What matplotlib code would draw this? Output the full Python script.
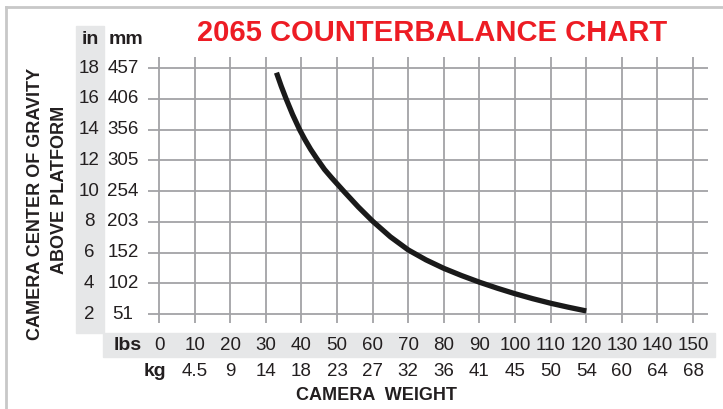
import matplotlib
matplotlib.use("Agg")
import matplotlib.pyplot as plt
from matplotlib.patches import Rectangle
from matplotlib.lines import Line2D
from matplotlib.transforms import blended_transform_factory
from matplotlib import font_manager

# Datos
curve_lbs = [33.0, 34.3, 35.7, 37.5, 39.5, 41.0, 42.6, 44.3, 46.5, 48.5, 52.0, 56.0,
             60.0, 65.0, 70.0, 75.0, 80.0, 85.0, 90.0, 95.0, 100, 105, 110, 115, 120]
curve_in = [17.7, 16.84, 16.0, 14.99, 13.99, 13.34, 12.71, 12.12, 11.4, 10.86, 9.96, 8.96,
            8.04, 7.02, 6.17, 5.52, 4.97, 4.5, 4.07, 3.68, 3.32, 2.995, 2.7, 2.44, 2.2]

lbs_ticks = [0, 10, 20, 30, 40, 50, 60, 70, 80, 90, 100, 110, 120, 130, 140, 150]
kg_labels = ["", "4.5", "9", "14", "18", "23", "27", "32", "36", "41", "45", "50", "54", "60", "64", "68"]
in_ticks = [18, 16, 14, 12, 10, 8, 6, 4, 2]
mm_labels = ["457", "406", "356", "305", "254", "203", "152", "102", "51"]

W, H = 723, 409
names = {f.name for f in font_manager.fontManager.ttflist}
narrow = "Liberation Sans Narrow" if "Liberation Sans Narrow" in names else "Liberation Sans"
bold = "Liberation Sans"
ink = "#231f20"

fig = plt.figure(figsize=(W / 100, H / 100), dpi=100)


def fx(px):
    return px / W


def fy(py):
    return 1 - py / H


# bandas grises
band = "#e6e7e8"
fig.patches.append(Rectangle((fx(76), fy(333)), fx(104) - fx(76), fy(26) - fy(333),
                             transform=fig.transFigure, color=band, zorder=-5))
fig.patches.append(Rectangle((fx(103), fy(357)), fx(715) - fx(103), fy(333) - fy(357),
                             transform=fig.transFigure, color=band, zorder=-5))

# marco
frame = "#c8c8c8"
fig.lines.append(Line2D([fx(6), 1], [fy(7), fy(7)], transform=fig.transFigure, color=frame, lw=2, zorder=-5))
fig.lines.append(Line2D([fx(6), fx(6)], [fy(7), 0], transform=fig.transFigure, color=frame, lw=2, zorder=-5))

ax = fig.add_axes([fx(148), fy(323), fx(708) - fx(148), fy(57) - fy(323)])
ax.set_xlim(-3.09, 154.2)
ax.set_ylim(1.415, 18.72)
ax.patch.set_alpha(0)
for s in ax.spines.values():
    s.set_visible(False)
ax.set_xticks([])
ax.set_yticks([])

grid = "#a3a3a6"
for x in lbs_ticks:
    ax.axvline(x, color=grid, lw=1.3, zorder=1)
for y in in_ticks:
    ax.axhline(y, color=grid, lw=1.3, zorder=1)

ax.plot(curve_lbs, curve_in, color="#1a1a1a", lw=3.8, solid_capstyle="butt",
        solid_joinstyle="round", zorder=3)

# etiquetas de los ejes
tx = blended_transform_factory(ax.transData, fig.transFigure)
for v, kg in zip(lbs_ticks, kg_labels):
    ax.text(v, fy(346), str(v), transform=tx, ha="center", va="center",
            fontsize=13.5, family=narrow, color=ink, clip_on=False)
    ax.text(v, fy(371), kg, transform=tx, ha="center", va="center",
            fontsize=13.5, family=narrow, color=ink, clip_on=False)

ty = blended_transform_factory(fig.transFigure, ax.transData)
for v, mm in zip(in_ticks, mm_labels):
    ax.text(fx(89), v, str(v), transform=ty, ha="center", va="center",
            fontsize=13.5, family=narrow, color=ink, clip_on=False)
    ax.text(fx(123), v, mm, transform=ty, ha="center", va="center",
            fontsize=13.5, family=narrow, color=ink, clip_on=False)

fig.text(fx(90), fy(40), "in", ha="center", va="center", fontsize=14,
         family=bold, weight="bold", color=ink)
fig.text(fx(126), fy(40), "mm", ha="center", va="center", fontsize=14,
         family=bold, weight="bold", color=ink)
fig.text(fx(128), fy(346), "lbs", ha="center", va="center", fontsize=14,
         family=bold, weight="bold", color=ink)
fig.text(fx(155), fy(371), "kg", ha="center", va="center", fontsize=14,
         family=bold, weight="bold", color=ink)

fig.text(fx(432), fy(33), "2065 COUNTERBALANCE CHART", ha="center", va="center",
         fontsize=21, family=bold, weight="bold", color="#ed1c24")
fig.text(fx(377), fy(396), "CAMERA  WEIGHT", ha="center", va="center",
         fontsize=13, family=bold, weight="bold", color=ink)
fig.text(fx(36), fy(204), "CAMERA CENTER OF GRAVITY", ha="center", va="center",
         rotation=90, fontsize=13, family=bold, weight="bold", color=ink)
fig.text(fx(60), fy(190), "ABOVE PLATFORM", ha="center", va="center",
         rotation=90, fontsize=13, family=bold, weight="bold", color=ink)

fig.savefig("out.png", dpi=100)
